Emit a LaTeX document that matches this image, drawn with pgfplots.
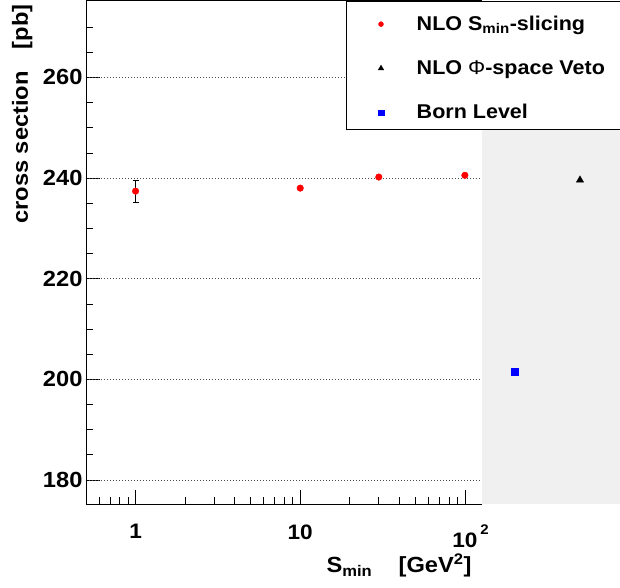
\documentclass[border=0pt]{standalone}
\usepackage{fontspec}
\setmainfont{Liberation Sans}[FakeStretch=1.08]
\usepackage{pgfplots}
\pgfplotsset{compat=1.18}
\definecolor{padgray}{RGB}{240,240,240}
\newcommand{\ylbl}{\fontsize{22}{22}\selectfont\bfseries}
\newcommand{\xlbl}{\fontsize{21}{21}\selectfont\bfseries}
\newcommand{\leg}{\fontsize{20}{20}\selectfont\bfseries}
\begin{document}
\begin{tikzpicture}
\begin{axis}[
  at={(0,0)}, anchor=south west,
  scale only axis, width=534bp, height=503bp,
  xmode=log, xmin=0.5, xmax=875, ymin=175.2, ymax=275.2,
  axis line style={draw=none},
  xtick={1,10,100},
  xticklabels={1,10,10\rlap{\hspace{3bp}\raisebox{13bp}{\fontsize{14}{14}\selectfont 2}}},
  minor xtick={0.6,0.7,0.8,0.9,2,3,4,5,6,7,8,9,20,30,40,50,60,70,80,90},
  ytick={180,200,220,240,260},
  minor ytick={185,190,...,270},
  xtick pos=bottom, ytick pos=left, tick align=inside,
  major tick length=14bp, minor tick length=7bp,
  every tick/.style={black, line width=0.6pt},
  /pgf/number format/assume math mode=true,
  xticklabel style={font=\xlbl, yshift=-17bp},
  yticklabel style={font=\ylbl},
  legend style={at={(0.532,1)}, anchor=north west, draw=none, fill=none,
    font=\leg, row sep=24.5bp, inner xsep=8bp, inner ysep=13bp,
    /tikz/every odd column/.append style={column sep=31bp}},
  legend image post style={scale=0.75},
  legend cell align=left,
]
\fill[padgray] (axis cs:127,175.2) rectangle (axis cs:875,275.2);
\pgfplotsinvokeforeach{180,200,220,240,260}{
  \draw[black!70, dash pattern=on 1bp off 2bp, line width=0.6pt] (axis cs:0.5,#1) -- (axis cs:127,#1);
}
\draw[black, line width=1pt] (axis cs:127,275.2) -- (axis cs:0.5,275.2) -- (axis cs:0.5,175.2) -- (axis cs:127,175.2);

\addplot[only marks, mark=*, mark size=3.3bp, red, mark options={fill=red, draw=red},
  error bars/.cd, y dir=both, y explicit,
  error bar style={black, line width=0.6pt},
  error mark options={rotate=90, black, mark size=3bp, line width=0.6pt}]
  coordinates {(1,237.4) +- (0,2.15) (10,238.0) +- (0,0) (30,240.2) +- (0,0) (100,240.55) +- (0,0)};
\addlegendentry{NLO S\textsubscript{min}-slicing}
\addplot[only marks, mark=triangle*, mark size=4.2bp, black]
  coordinates {(500,239.6)};
\addlegendentry{NLO \textmd{Φ}-space Veto}
\addplot[only marks, mark=square*, mark size=3.6bp, blue]
  coordinates {(200,201.5)};
\addlegendentry{Born Level}
\draw[black, fill=white, line width=0.8pt] (axis description cs:0.487,1) rectangle (axis description cs:1.02,0.744);
\end{axis}
\node[rotate=90, anchor=base east, font=\ylbl] at (-58bp,503bp) {cross section\hspace{1em}[pb]};
\node[anchor=base east, font=\ylbl] at (389bp,-68bp) {S\textsubscript{min}\hspace{1.2em}[GeV\textsuperscript{2}]};
\pgfresetboundingbox
\path[use as bounding box] (-86bp,-84bp) rectangle (534bp,504bp);
\end{tikzpicture}
\end{document}
